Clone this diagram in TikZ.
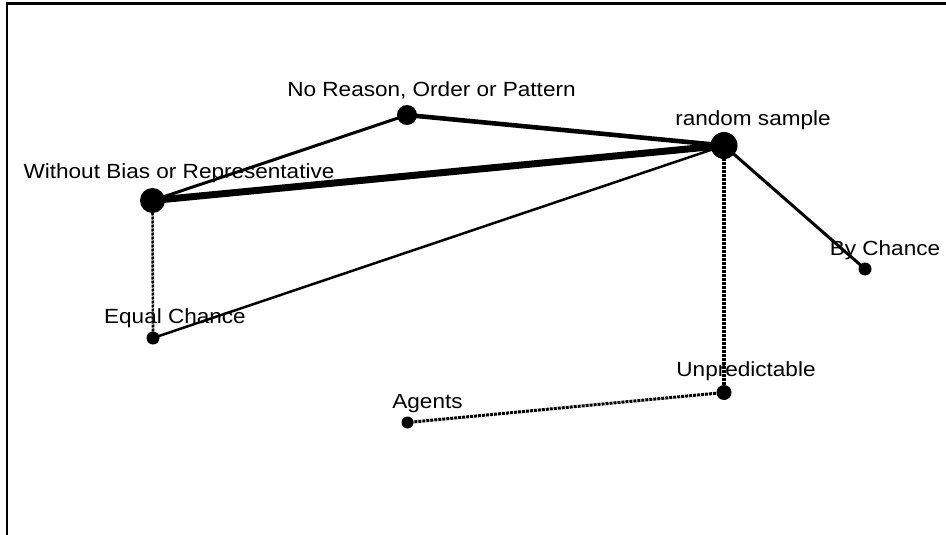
\documentclass[tikz,border=0pt]{standalone}
\usepackage{fontspec}
\setmainfont{Liberation Sans}[FakeStretch=1.1]
\usetikzlibrary{backgrounds}
\tikzset{
  vert/.style={circle, fill=black, inner sep=0pt, minimum size=#1},
  lbl/.style={anchor=base, inner sep=0pt, font=\fontsize{20.5}{24}\selectfont},
  edge/.style={draw=black, line width=#1, line cap=round},
  dedge/.style={draw=black, line width=#1, dash pattern=on 3pt off 1pt},
}
\begin{document}
\begin{tikzpicture}[x=1pt,y=-1pt]
\useasboundingbox (0,0) rectangle (946,535);
\coordinate (fbl) at (7.2,535);
\coordinate (ftl) at (7.2,3.5);
\coordinate (ftr) at (946,3.5);
\draw[line width=2.3pt] (fbl) -- (ftl) -- (ftr);

\node[vert=27pt] (rs) at (724,145.5) {};
\node[vert=20pt] (nr) at (407,115) {};
\node[vert=25pt] (wb) at (152.5,200.5) {};
\node[vert=13pt] (ec) at (153,338) {};
\node[vert=13pt] (bc) at (865,269) {};
\node[vert=15pt] (up) at (724,392.5) {};
\node[vert=12pt] (ag) at (407.5,422.5) {};

\node[lbl] (rst) at (753,125) {random sample};
\node[lbl] (nrt) at (431.5,97) {No Reason, Order or Pattern};
\node[lbl] (wbt) at (179,178) {Without Bias or Representative};
\node[lbl] (ect) at (175,323) {Equal Chance};
\node[lbl] (bct) at (885,255) {By Chance};
\node[lbl] (upt) at (746,376.5) {Unpredictable};
\node[lbl] (agt) at (427.5,408) {Agents};

\begin{pgfonlayer}{background}
\fill[white] (0,0) rectangle (946,535);
\draw[edge=7pt] (wb.center) -- (rs.center);
\draw[edge=4.6pt] (nr.center) -- (rs.center);
\draw[edge=3pt] (wb.center) -- (nr.center);
\draw[edge=2.5pt] (ec.center) -- (rs.center);
\draw[edge=3pt] (rs.center) -- (bc.center);
\draw[dedge=2.6pt] (wb.center) -- (ec.center);
\draw[dedge=3.4pt] (rs.center) -- (up.center);
\draw[dedge=3pt] (up.center) -- (ag.center);
\end{pgfonlayer}
\end{tikzpicture}
\end{document}
